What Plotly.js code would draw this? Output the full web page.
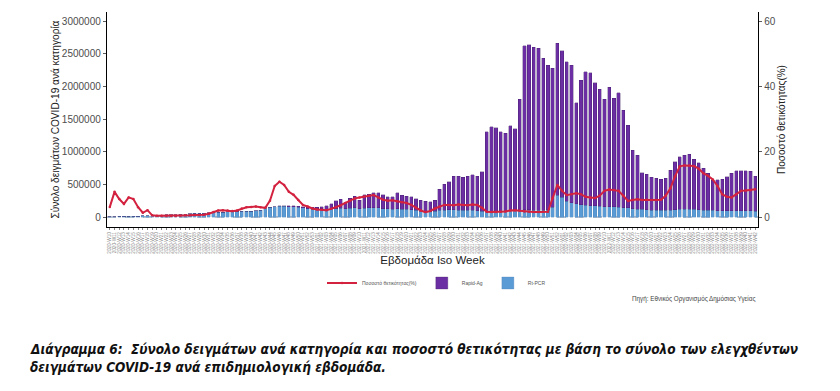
<!DOCTYPE html>
<html>
<head>
<meta charset="utf-8">
<script src="https://cdn.plot.ly/plotly-3.0.1.min.js"></script>
<style>html,body{margin:0;padding:0;background:#fff;}#chart{width:840px;height:391px;}</style>
</head>
<body>
<div id="chart"></div>
<script>
// ISO weeks 2020-W10 .. 2022-W42 (categorical axis labels)
const weekLabels = [];
[[2020, 10, 53], [2021, 1, 52], [2022, 1, 42]].forEach(function (r) {
  for (let w = r[1]; w <= r[2]; w++) weekLabels.push(r[0] + '-W' + (w < 10 ? '0' + w : w));
});

const rtPcr = [
  5000, 6000, 8000, 10000, 12000, 14000, 15000, 18000, 20000, 22000,
  25000, 30000, 32000, 35000, 38000, 40000, 45000, 50000, 55000, 58000,
  60000, 65000, 70000, 70000, 75000, 80000, 80000, 85000, 85000, 90000,
  90000, 95000, 100000, 140000, 150000, 160000, 165000, 165000, 160000, 155000,
  150000, 140000, 130000, 120000, 130000, 125000, 120000, 125000, 130000, 135000,
  130000, 135000, 140000, 130000, 135000, 140000, 145000, 140000, 130000, 125000,
  120000, 125000, 120000, 115000, 110000, 100000, 90000, 85000, 80000, 85000,
  100000, 105000, 110000, 110000, 105000, 100000, 105000, 100000, 95000, 90000,
  85000, 80000, 80000, 85000, 90000, 95000, 100000, 100000, 110000, 110000,
  105000, 100000, 100000, 110000, 150000, 330000, 300000, 240000, 220000, 200000,
  190000, 180000, 175000, 170000, 165000, 160000, 160000, 155000, 150000, 145000,
  140000, 130000, 120000, 115000, 110000, 105000, 100000, 100000, 100000, 105000,
  110000, 115000, 120000, 120000, 115000, 110000, 105000, 100000, 100000, 95000,
  95000, 95000, 95000, 95000, 95000, 95000, 95000, 90000
];

const rapidAg = [
  0, 0, 0, 0, 0, 0, 0, 0, 0, 0,
  0, 0, 0, 0, 0, 0, 0, 0, 0, 0,
  0, 0, 0, 0, 0, 0, 0, 0, 0, 0,
  0, 0, 0, 0, 0, 0, 5000, 10000, 10000, 15000,
  15000, 20000, 20000, 30000, 20000, 35000, 50000, 75000, 120000, 135000,
  90000, 155000, 180000, 130000, 205000, 210000, 225000, 235000, 210000, 185000,
  190000, 245000, 210000, 205000, 200000, 180000, 170000, 155000, 150000, 175000,
  325000, 400000, 430000, 517000, 522000, 507000, 522000, 543000, 532000, 603000,
  1220000, 1302000, 1287000, 1220000, 1190000, 1302000, 1251000, 1700000, 2510000, 2530000,
  2492000, 2480000, 2328000, 2216000, 2125000, 2327000, 2245000, 2136000, 2106000, 1550000,
  1906000, 2043000, 2033000, 1885000, 1790000, 1640000, 1825000, 1662000, 1754000, 1492000,
  1268000, 895000, 829000, 563000, 548000, 502000, 492000, 477000, 490000, 614000,
  736000, 808000, 829000, 844000, 768000, 721000, 640000, 569000, 466000, 475000,
  480000, 522000, 574000, 615000, 613000, 610000, 605000, 537000
];

const positivity = [
  3.1, 7.7, 5.5, 4.0, 6.0, 5.5, 3.0, 1.3, 2.1, 0.5,
  0.4, 0.4, 0.3, 0.3, 0.3, 0.4, 0.5, 0.5, 0.6, 0.6,
  0.7, 1.0, 1.5, 2.0, 2.1, 2.0, 1.8, 2.0, 2.6, 3.0,
  3.1, 3.2, 3.0, 2.8, 5.0, 9.5, 10.8, 9.8, 7.7, 6.8,
  5.2, 3.7, 3.2, 2.6, 2.3, 2.2, 2.1, 2.5, 3.0, 3.6,
  4.3, 5.0, 5.7, 6.0, 6.3, 6.5, 6.7, 6.0, 5.3, 5.0,
  5.1, 4.8, 4.5, 4.3, 3.7, 2.8, 2.0, 1.5, 1.8, 2.6,
  3.2, 3.7, 3.7, 3.6, 3.8, 3.7, 3.6, 3.8, 3.7, 2.8,
  1.6, 1.5, 1.5, 1.6, 1.7, 2.0, 2.1, 1.9, 1.7, 1.6,
  1.5, 1.5, 1.6, 1.6, 5.8, 9.8, 8.0, 6.7, 7.0, 7.3,
  7.0, 6.2, 6.0, 5.8, 6.5, 8.0, 8.4, 8.3, 8.0, 6.5,
  4.9, 5.2, 5.4, 5.2, 5.3, 5.2, 5.2, 5.3, 6.5, 8.8,
  12.5, 15.5, 15.8, 15.8, 15.6, 14.8, 13.4, 12.6, 11.5, 9.5,
  7.0, 6.2, 6.0, 7.0, 8.0, 8.1, 8.2, 8.5
];

const leftTicks = [0, 500000, 1000000, 1500000, 2000000, 2500000, 3000000];
const rightTicks = [0, 20, 40, 60];

// plot-area pixel geometry helpers (plot spans x 107..758, y 12..227)
const PL = 107, PR = 758, PT = 12, PB = 227;
function px(x) { return (x - PL) / (PR - PL); }
function py(y) { return (PB - y) / (PB - PT); }

const traces = [
  {
    type: 'bar', name: 'Rt-PCR', x: weekLabels, y: rtPcr,
    marker: { color: '#5b9bd5', line: { color: '#4a7fb0', width: 0.3 } },
    hoverinfo: 'skip'
  },
  {
    type: 'bar', name: 'Rapid-Ag', x: weekLabels, y: rapidAg,
    marker: { color: '#6b2fa3', line: { color: '#3d1a60', width: 0.3 } },
    hoverinfo: 'skip'
  },
  {
    type: 'scatter', mode: 'lines+markers', name: 'Ποσοστό θετικότητας(%)',
    x: weekLabels, y: positivity, yaxis: 'y2',
    line: { color: '#d3223f', width: 2 },
    marker: { color: '#d3223f', size: 2.5 },
    hoverinfo: 'skip'
  }
];

const axisFont = { family: 'Liberation Sans, Arial, sans-serif', size: 10, color: '#4d4d4d' };

const layout = {
  width: 840, height: 391,
  margin: { l: PL, r: 840 - PR, t: PT, b: 391 - PB, pad: 0 },
  paper_bgcolor: '#ffffff', plot_bgcolor: '#ffffff',
  barmode: 'stack', bargap: 0.3,
  showlegend: true,
  legend: {
    orientation: 'h', x: px(322), y: py(283), xanchor: 'left', yanchor: 'middle',
    font: { family: 'Liberation Sans, Arial, sans-serif', size: 5, color: '#555' },
    traceorder: 'reversed', itemwidth: 30, bgcolor: 'rgba(0,0,0,0)', tracegroupgap: 0
  },
  xaxis: {
    type: 'category', range: [-0.6, weekLabels.length - 1 + 0.6],
    tickmode: 'linear', tick0: 0, dtick: 1,
    showline: true, linecolor: '#000', linewidth: 1.2, mirror: false,
    ticks: 'outside', ticklen: 2, tickcolor: '#333', tickwidth: 0.6,
    tickangle: -90, tickfont: { family: 'Liberation Sans, Arial, sans-serif', size: 4.7, color: '#8c8c8c' },
    showgrid: false, zeroline: false, automargin: false,
    title: { text: 'Εβδομάδα Iso Week', font: { family: 'Liberation Sans, Arial, sans-serif', size: 11.5, color: '#222' }, standoff: 0 }
  },
  yaxis: {
    range: [-153061, 3137755], tickvals: leftTicks, ticktext: leftTicks.map(String),
    showline: true, linecolor: '#000', linewidth: 1.2,
    ticks: 'outside', ticklen: 3, tickcolor: '#333', tickwidth: 0.8,
    tickfont: axisFont, showgrid: false, zeroline: false, automargin: false,
    title: { text: 'Σύνολο δειγμάτων COVID-19 ανά κατηγορία', font: { family: 'Liberation Sans, Arial, sans-serif', size: 10.1, color: '#222' }, standoff: 0 }
  },
  yaxis2: {
    overlaying: 'y', side: 'right', range: [-3.06, 62.76], tickvals: rightTicks,
    showline: true, linecolor: '#000', linewidth: 1.2,
    ticks: 'outside', ticklen: 3, tickcolor: '#333', tickwidth: 0.8,
    tickfont: axisFont, showgrid: false, zeroline: false, automargin: false,
    title: { text: 'Ποσοστό θετικότητας(%)', font: { family: 'Liberation Sans, Arial, sans-serif', size: 10, color: '#222' }, standoff: 3 }
  },
  shapes: [
    { type: 'line', xref: 'paper', yref: 'y', x0: 0, x1: 1, y0: 0, y1: 0, layer: 'below',
      line: { color: '#6a86a8', width: 1, dash: 'dash' } }
  ],
  annotations: [
    { xref: 'paper', yref: 'paper', x: px(757), y: py(299), xanchor: 'right', yanchor: 'middle',
      text: 'Πηγή: Εθνικός Οργανισμός Δημόσιας Υγείας', showarrow: false,
      font: { family: 'Liberation Sans, Arial, sans-serif', size: 6.3, color: '#444' } },
    { xref: 'paper', yref: 'paper', x: px(28), y: py(349), xanchor: 'left', yanchor: 'middle',
      text: '<b><i>Διάγραμμα 6:  Σύνολο δειγμάτων ανά κατηγορία και ποσοστό θετικότητας με βάση το σύνολο των ελεγχθέντων</i></b>',
      showarrow: false,
      font: { family: 'Liberation Sans Narrow, DejaVu Sans Condensed, Liberation Sans, sans-serif', size: 13.5, color: '#111' } },
    { xref: 'paper', yref: 'paper', x: px(28), y: py(367), xanchor: 'left', yanchor: 'middle',
      text: '<b><i>δειγμάτων COVID-19 ανά επιδημιολογική εβδομάδα.</i></b>',
      showarrow: false,
      font: { family: 'Liberation Sans Narrow, DejaVu Sans Condensed, Liberation Sans, sans-serif', size: 13.5, color: '#111' } }
  ]
};

Plotly.newPlot('chart', traces, layout, { staticPlot: true, displayModeBar: false });
</script>
</body>
</html>
